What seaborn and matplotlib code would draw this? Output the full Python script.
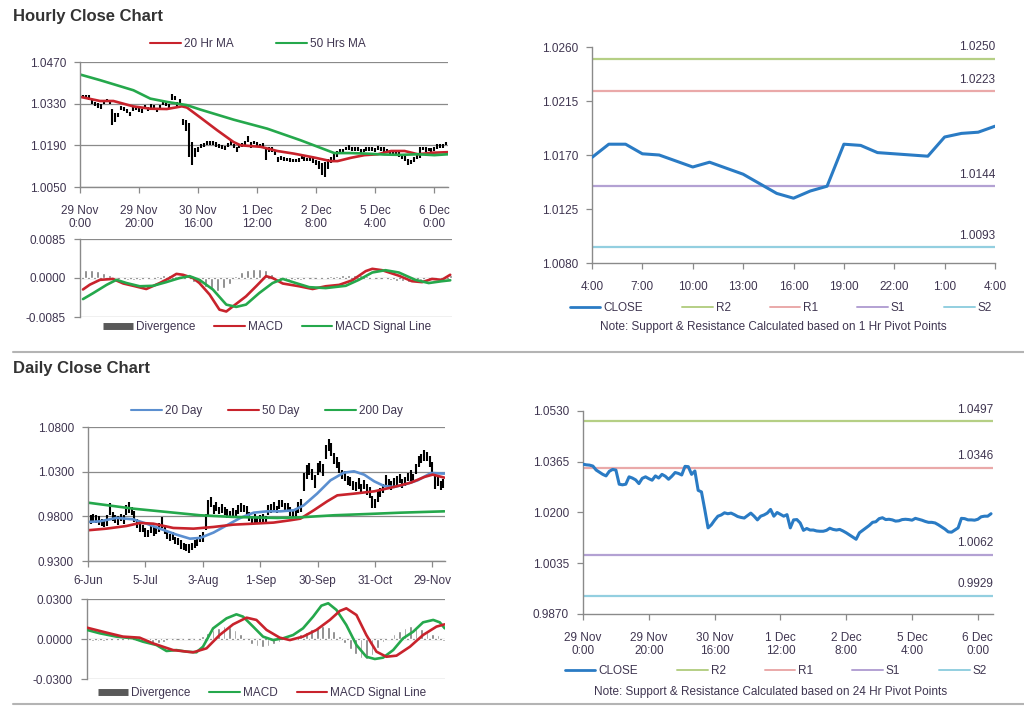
import matplotlib
matplotlib.use('Agg')
import matplotlib.pyplot as plt
from matplotlib.lines import Line2D
import seaborn as sns

sns.set_theme(style="white")
plt.rcParams['font.family'] = ['Liberation Sans', 'DejaVu Sans']

W, H = 1024, 706
TXT = '#3f3550'
AXC = '#8a8a8a'
BLUE = '#2a7bc4'
RED = '#c8232c'
GREEN = '#25a84c'
LEVEL_COLORS = ['#b5cf85', '#eaa9a9', '#b3a1d3', '#93cfe0']

# ---------------- hourly data (29 Nov 0:00 -> 6 Dec 4:00) ----------------
hr_close = [1.0357, 1.0355, 1.0354, 1.0351, 1.0338, 1.0331, 1.0324, 1.0319, 1.0334, 1.0340,
            1.0338, 1.0292, 1.0290, 1.0292, 1.0316, 1.0312, 1.0306, 1.0294, 1.0311, 1.0316,
            1.0310, 1.0305, 1.0319, 1.0312, 1.0324, 1.0318, 1.0308, 1.0318, 1.0330, 1.0327,
            1.0322, 1.0350, 1.0349, 1.0324, 1.0335, 1.0272, 1.0267, 1.0210, 1.0150, 1.0160,
            1.0175, 1.0188, 1.0192, 1.0199, 1.0196, 1.0198, 1.0193, 1.0187, 1.0184, 1.0182,
            1.0190, 1.0198, 1.0188, 1.0176, 1.0188, 1.0192, 1.0198, 1.0210, 1.0188, 1.0200,
            1.0194, 1.0188, 1.0193, 1.0150, 1.0176, 1.0177, 1.0166, 1.0142, 1.0148, 1.0143,
            1.0143, 1.0140, 1.0139, 1.0139, 1.0142, 1.0149, 1.0145, 1.0143, 1.0145, 1.0140,
            1.0134, 1.0127, 1.0120, 1.0113, 1.0134, 1.0142, 1.0150, 1.0158, 1.0168, 1.0170,
            1.0180, 1.0183, 1.0177, 1.0178, 1.0176, 1.0172, 1.0173, 1.0177, 1.0178, 1.0177,
            1.0175, 1.0181, 1.0178, 1.0175, 1.0171, 1.0168, 1.0168, 1.0166, 1.0160, 1.0153,
            1.0146, 1.0137, 1.0136, 1.0143, 1.0150, 1.0181, 1.0180, 1.0176, 1.0176, 1.0175,
            1.0178, 1.0186, 1.0188, 1.0188, 1.0196]
# bar extent above / below the close, in pips
hr_up = [6, 5, 6, 8, 7, 6, 8, 10, 6, 5, 6, 20, 10, 6, 7, 8, 6, 7, 8, 5,
         6, 7, 6, 8, 6, 7, 8, 6, 5, 8, 7, 12, 8, 10, 12, 8, 8, 55, 50, 20,
         8, 6, 7, 5, 8, 6, 7, 8, 6, 5, 8, 6, 7, 10, 6, 7, 8, 10, 12, 6,
         7, 8, 6, 35, 8, 6, 10, 8, 6, 7, 5, 6, 6, 5, 7, 6, 6, 5, 7, 8,
         7, 10, 12, 20, 10, 8, 12, 12, 10, 8, 6, 7, 7, 6, 8, 7, 6, 6, 7, 6,
         7, 6, 7, 8, 6, 7, 6, 7, 6, 8, 10, 8, 6, 7, 8, 5, 6, 7, 6, 7,
         6, 7, 8, 6, 6]
hr_dn = [6, 6, 7, 8, 10, 10, 9, 8, 6, 6, 8, 35, 20, 7, 6, 8, 9, 6, 7, 6,
         7, 6, 8, 6, 7, 8, 6, 7, 6, 6, 6, 6, 7, 8, 6, 15, 30, 60, 25, 10,
         8, 7, 6, 7, 6, 7, 8, 6, 7, 6, 7, 8, 6, 8, 7, 6, 7, 8, 7, 6,
         8, 6, 7, 8, 7, 8, 9, 7, 6, 6, 6, 7, 6, 6, 7, 6, 6, 6, 7, 8,
         10, 15, 30, 30, 25, 10, 8, 6, 7, 6, 6, 7, 6, 7, 6, 7, 6, 6, 7, 6,
         6, 7, 6, 6, 7, 8, 6, 7, 8, 10, 10, 12, 10, 8, 6, 35, 6, 7, 6, 7,
         6, 7, 6, 7, 6]

hr_ma20_x = [0, 6.8, 11.3, 18, 23.8, 29.4, 34.5, 36.2, 40.8, 46.4, 52, 54.4, 61.2, 66.8,
             72.5, 79.3, 84.9, 87.2, 91.7, 96.3, 100.8, 105.3, 109.9, 114.4, 118.9, 124.6]
hr_ma20 = [1.0353, 1.0339, 1.0339, 1.0321, 1.0313, 1.0312, 1.0321, 1.0317, 1.0283, 1.0241,
           1.0201, 1.0190, 1.0185, 1.0171, 1.0162, 1.0149, 1.0137, 1.0137, 1.0148, 1.0157,
           1.0160, 1.0171, 1.0171, 1.0160, 1.0165, 1.0167]
hr_ma50_x = [0, 6.8, 18.1, 23.8, 29.4, 36.2, 40.8, 52.1, 63.4, 74.7, 86.1, 91.7, 97.4,
             103, 108.7, 114.4, 120, 124.6]
hr_ma50 = [1.0428, 1.0409, 1.0375, 1.0347, 1.0336, 1.0325, 1.0310, 1.0276, 1.0246, 1.0207,
           1.0164, 1.0164, 1.0162, 1.0159, 1.0158, 1.0160, 1.0157, 1.0160]

hr_macd_x = [1, 3.3, 6.7, 11, 14.5, 17.8, 22.2, 26.7, 30, 32.3, 34.5, 37.8, 40, 43.4, 46.7,
             49, 51.2, 55.6, 59, 62.3, 64.5, 67.9, 73.4, 77.9, 82.3, 86.8, 91.2, 95.7, 97.9,
             101.2, 106.8, 111.2, 114.6, 117.9, 121.2, 124]
hr_macd = [-0.0025, -0.00145, -0.0004, -0.0002, -0.0012, -0.0017, -0.0024, -0.0011, 0.0,
           0.0009, 0.0007, 0.0, -0.0011, -0.0036, -0.0069, -0.0073, -0.0062, -0.0040, -0.0018,
           0.0004, 0.0, -0.0012, -0.0018, -0.0024, -0.0018, -0.0015, -0.0005, 0.0015, 0.0020,
           0.0017, 0.0005, -0.0007, -0.0009, -0.0002, -0.0004, 0.0007]
hr_sig_x = [1, 4.4, 8.9, 12.2, 15.6, 20, 24.5, 28.9, 33.4, 36.7, 40, 44.5, 49, 52.3, 55.6,
            60, 64.5, 67.9, 72.3, 76.8, 82.3, 89, 93.4, 97.9, 102.3, 106.8, 112.3, 116.8,
            121.2, 124]
hr_sig = [-0.0046, -0.0033, -0.0015, -0.0004, -0.0011, -0.0018, -0.0017, -0.0009, 0.0,
          0.0004, -0.0004, -0.0025, -0.0058, -0.0063, -0.0058, -0.0033, -0.0011, -0.0002,
          -0.0011, -0.0020, -0.0022, -0.0017, -0.0004, 0.0012, 0.0017, 0.0012, -0.0004,
          -0.0011, -0.0007, -0.0005]
# divergence every second hour, in 1e-4
hr_div = [15, 18, 18, 16, 10, 6, 1, -2, -4, -5, -4, -3, 2, 5, 7, 7, 5, 2, -3, -8,
          -14, -20, -26, -28, -22, -12, 4, 14, 18, 20, 20, 17, 8, -2, -4, -5, -4, -4, -3, -1,
          2, 3, 4, 5, 6, 6, 7, 6, 5, 3, 0, -3, -5, -6, -7, -8, -6, -4, -2, 1,
          3, 5, 6]
hr_ticks = [0, 20, 40, 60, 80, 100, 120]
hr_labels = ['29 Nov\n0:00', '29 Nov\n20:00', '30 Nov\n16:00', '1 Dec\n12:00',
             '2 Dec\n8:00', '5 Dec\n4:00', '6 Dec\n0:00']

# ---------------- last 24 hours with 1 Hr pivots ----------------
h24_close = [1.0168, 1.0179, 1.0179, 1.0171, 1.0170, 1.0165, 1.0160, 1.0164, 1.0159, 1.0154,
             1.0146, 1.0138, 1.0134, 1.0140, 1.0144, 1.0179, 1.0178, 1.0172, 1.0171, 1.0170,
             1.0169, 1.0185, 1.0188, 1.0189, 1.0194]
h24_labels = ['4:00', '7:00', '10:00', '13:00', '16:00', '19:00', '22:00', '1:00', '4:00']
h1_levels = [1.0250, 1.0223, 1.0144, 1.0093]
h24_levels = [1.0497, 1.0346, 1.0062, 0.9929]
level_names = ['R2', 'R1', 'S1', 'S2']

# ---------------- daily data (6 Jun -> 5 Dec) ----------------
d_close = [0.978, 0.976, 0.979, 0.977, 0.975, 0.973, 0.972, 0.975, 0.988, 0.980,
           0.977, 0.975, 0.979, 0.976, 0.987, 0.990, 0.986, 0.980, 0.972, 0.967,
           0.966, 0.962, 0.961, 0.965, 0.963, 0.964, 0.968, 0.973, 0.965, 0.959,
           0.956, 0.958, 0.953, 0.952, 0.948, 0.946, 0.945, 0.944, 0.946, 0.949,
           0.952, 0.955, 0.957, 0.974, 0.990, 0.996, 0.988, 0.991, 0.987, 0.989,
           0.986, 0.983, 0.982, 0.984, 0.983, 0.988, 0.990, 0.989, 0.987, 0.980,
           0.976, 0.978, 0.975, 0.977, 0.978, 0.976, 0.987, 0.989, 0.991, 0.988,
           0.993, 0.994, 0.990, 0.991, 0.985, 0.983, 0.984, 0.990, 0.992, 1.018,
           1.030, 1.033, 1.027, 1.019, 1.033, 1.036, 1.032, 1.052, 1.060, 1.055,
           1.045, 1.040, 1.035, 1.027, 1.025, 1.020, 1.019, 1.015, 1.013, 1.017,
           1.011, 1.016, 1.010, 1.007, 0.996, 0.994, 1.002, 1.007, 1.011, 1.020,
           1.017, 1.015, 1.018, 1.020, 1.022, 1.017, 1.019, 1.024, 1.026, 1.022,
           1.033, 1.041, 1.045, 1.048, 1.047, 1.041, 1.035, 1.020, 1.019, 1.014,
           1.017]
# half of each day's high-low range, in 1e-3
d_rng = [4, 5, 4, 4, 5, 4, 4, 6, 7, 5, 4, 5, 4, 5, 6, 6, 5, 6, 5, 4,
         4, 5, 4, 4, 5, 4, 5, 6, 5, 4, 4, 5, 4, 4, 5, 4, 4, 5, 4, 4,
         5, 4, 6, 9, 8, 6, 5, 5, 4, 5, 4, 5, 4, 5, 4, 5, 5, 4, 5, 5,
         4, 5, 4, 4, 5, 4, 6, 5, 5, 4, 5, 4, 5, 4, 5, 4, 5, 6, 7, 10,
         8, 7, 6, 7, 7, 6, 7, 8, 7, 7, 6, 6, 6, 5, 6, 5, 5, 5, 5, 6,
         5, 5, 6, 6, 7, 5, 6, 5, 5, 6, 5, 5, 5, 5, 5, 5, 5, 5, 6, 5,
         6, 6, 5, 6, 5, 6, 6, 9, 5, 5, 5]
d_ma20_x = [0, 4.3, 10.4, 16.5, 21.4, 26.3, 32.4, 37.3, 41, 45.9, 50.8, 55.7, 60.6, 65.5,
            70.4, 75.3, 78.9, 83.8, 88.7, 93.6, 97.3, 101, 104.7, 108.3, 112, 115.7, 120.6,
            125.5, 130.4]
d_ma20 = [0.9737, 0.9744, 0.9782, 0.9767, 0.9718, 0.9662, 0.9595, 0.9550, 0.9558, 0.9618,
          0.9700, 0.9782, 0.9841, 0.9856, 0.9856, 0.9868, 0.9923, 1.0054, 1.0203, 1.0289,
          1.0304, 1.0267, 1.0192, 1.0140, 1.0129, 1.0155, 1.0203, 1.0285, 1.0278]
d_ma50_x = [0, 6.7, 14.1, 19, 23.9, 31.2, 38.6, 45.9, 53.2, 60.6, 67.9, 74, 77.7, 82.6,
            87.5, 91.2, 97.3, 104.7, 112, 118.1, 123, 126.1, 130.4]
d_ma50 = [0.9644, 0.9662, 0.9692, 0.9726, 0.9718, 0.9670, 0.9662, 0.9681, 0.9707, 0.9718,
          0.9730, 0.9756, 0.9774, 0.9868, 0.9968, 1.0035, 1.0054, 1.0080, 1.0129, 1.0177,
          1.0240, 1.0267, 1.0233]
d_ma200_x = [0, 16.5, 28.8, 41, 53.2, 69.2, 77.7, 90, 102.2, 114.4, 130.4]
d_ma200 = [0.9953, 0.9886, 0.9849, 0.9812, 0.9793, 0.9782, 0.9789, 0.9812, 0.9826, 0.9841,
           0.9856]

d_macd_x = [0, 4.6, 10.7, 16.8, 20.4, 25.3, 29, 32.6, 36.3, 39.9, 42.3, 46, 50.9, 54.5,
            56.9, 60.6, 64.2, 67.9, 71.5, 75.2, 78.8, 82.5, 85.5, 88, 91, 94.6, 98.3, 101.9,
            105, 108, 111.7, 115.3, 119, 122.6, 126.3, 128.7, 130.5]
d_macd = [0.0068, 0.0043, 0.0018, 0.0005, -0.0020, -0.0045, -0.0090, -0.0083, -0.0095,
          -0.0100, -0.0058, 0.0080, 0.0155, 0.0185, 0.0168, 0.0093, 0.0018, -0.0008, 0.0005,
          0.0030, 0.0080, 0.0168, 0.0250, 0.0268, 0.0218, 0.0105, -0.0045, -0.0133, -0.0150,
          -0.0140, -0.0083, 0.0005, 0.0055, 0.0125, 0.0143, 0.0125, 0.0080]
d_sig_x = [0, 6.7, 13.1, 19.2, 24.1, 31.4, 38.7, 43.6, 48.4, 53.3, 58.2, 61.8, 65.5, 70.3,
           74, 78.8, 83.7, 88.6, 92.2, 94.6, 98.3, 101.9, 105.6, 109.2, 112.9, 117.8, 122.6,
           127.5, 130.5]
d_sig = [0.0085, 0.0050, 0.0018, 0.0010, -0.0033, -0.0083, -0.0100, -0.0070, 0.0030, 0.0110,
         0.0160, 0.0143, 0.0068, 0.0010, -0.0008, 0.0018, 0.0068, 0.0143, 0.0210, 0.0230,
         0.0180, 0.0030, -0.0095, -0.0133, -0.0125, -0.0058, 0.0030, 0.0093, 0.0110]
# divergence every second day, in 1e-3
d_div = [-1.0, -1.5, -1.5, -1.2, -1.0, -0.8, -0.5, -0.5, -0.8, -1.5, -2.5, -3.0, -3.5, -3.0,
         -2.0, -1.0, -0.3, 0.3, 0.5, 0.3, 0.5, 2.0, 4.5, 6.5, 8.5, 9.5, 9.0, 7.0, 3.5, -1.0,
         -4.0, -5.5, -6.0, -5.5, -4.0, -2.0, -0.5, 0.5, 1.5, 3.5, 5.5, 7.5, 9.0, 10.0, 9.0,
         6.0, 2.0, -3.0, -7.5, -11.0, -14.0, -15.0, -12.0, -7.0, -2.5, 1.0, 4.0, 6.0, 8.0,
         9.5, 9.0, 7.5, 5.0, 4.0, 3.0, -1.5]
d_ticks = [0, 21, 42, 63, 84, 105, 126]
d_labels = ['6-Jun', '5-Jul', '3-Aug', '1-Sep', '30-Sep', '31-Oct', '29-Nov']


def box(fig, x0, y0, x1, y1):
    return fig.add_axes([x0 / W, 1 - y1 / H, (x1 - x0) / W, (y1 - y0) / H])


def style(ax, grid=True):
    ax.set_facecolor('white')
    for s in ['top', 'right']:
        ax.spines[s].set_visible(False)
    for s in ['left', 'bottom']:
        ax.spines[s].set_color(AXC)
        ax.spines[s].set_linewidth(1.0)
    ax.tick_params(axis='both', which='both', bottom=True, left=True, colors=AXC,
                   labelcolor=TXT, labelsize=8.5, length=4, width=0.9, direction='out')
    ax.tick_params(axis='y', pad=6)
    ax.tick_params(axis='x', pad=6)
    if grid:
        ax.yaxis.grid(True, color=AXC, lw=0.9)
        ax.set_axisbelow(True)
    ax.set_xlabel('')
    ax.set_ylabel('')


def yfmt(ax, ticks, fmt='{:.4f}'):
    ax.set_yticks(ticks)
    ax.set_yticklabels([fmt.format(t) for t in ticks])


def legend(fig, handles, labels, cx, cy, spacing=3.0):
    fig.legend(handles, labels, loc='center', bbox_to_anchor=(cx / W, 1 - cy / H),
               ncol=len(labels), frameon=False, fontsize=8.5, handlelength=2.6,
               handletextpad=0.25, columnspacing=spacing, labelcolor=TXT)


def div_handle():
    return Line2D([], [], color='#595959', lw=5, solid_capstyle='butt')


def ohlc(ax, xs, close, up, dn, unit):
    lows = [c - d * unit for c, d in zip(close, dn)]
    highs = [c + u * unit for c, u in zip(close, up)]
    ax.vlines(xs, lows, highs, color='black', lw=1.5)


def pivot_chart(ax, close, levels, ymin, ymax, yticks):
    xs = list(range(len(close)))
    for lv, c in zip(levels, LEVEL_COLORS):
        ax.axhline(lv, color=c, lw=1.6, zorder=1)
        ax.annotate(f'{lv:.4f}', xy=(1.0, lv), xycoords=('axes fraction', 'data'),
                    xytext=(0, 4), textcoords='offset points', ha='right', va='bottom',
                    fontsize=8.5, color=TXT)
    sns.lineplot(x=xs, y=close, ax=ax, color=BLUE, lw=2.2, zorder=3)
    ax.set_ylim(ymin, ymax)
    yfmt(ax, yticks)
    style(ax, grid=False)


def level_legend(fig, cx, cy):
    handles = [Line2D([], [], color=BLUE, lw=2)] + \
              [Line2D([], [], color=c, lw=1.4) for c in LEVEL_COLORS]
    legend(fig, handles, ['CLOSE'] + level_names, cx, cy, spacing=3.3)


fig = plt.figure(figsize=(W / 100, H / 100), dpi=100)
fig.patch.set_facecolor('white')

fig.text(13 / W, 1 - 16 / H, 'Hourly Close Chart', fontsize=12, fontweight='bold',
         color='#333333', va='center', ha='left')
fig.text(13 / W, 1 - 369 / H, 'Daily Close Chart', fontsize=12, fontweight='bold',
         color='#333333', va='center', ha='left')
fig.add_artist(Line2D([13 / W, 1], [1 - 352 / H] * 2, color='#b4b4b4', lw=1.5))
fig.add_artist(Line2D([13 / W, 1], [1 - 704 / H] * 2, color='#b4b4b4', lw=1.5))

# ---- hourly price with MAs ----
ax = box(fig, 80, 62, 448, 187)
hx = list(range(len(hr_close)))
ohlc(ax, hx, hr_close, hr_up, hr_dn, 0.0001)
sns.lineplot(x=hr_ma20_x, y=hr_ma20, ax=ax, color=RED, lw=1.9)
sns.lineplot(x=hr_ma50_x, y=hr_ma50, ax=ax, color=GREEN, lw=1.9)
ax.set_xlim(0, 124.6)
ax.set_ylim(1.0050, 1.0470)
yfmt(ax, [1.0050, 1.0190, 1.0330, 1.0470])
ax.set_xticks(hr_ticks)
ax.set_xticklabels(hr_labels, linespacing=1.1)
style(ax)
ax.tick_params(axis='x', pad=9)
legend(fig, [Line2D([], [], color=RED, lw=1.5), Line2D([], [], color=GREEN, lw=1.5)],
       ['20 Hr MA', '50 Hrs MA'], 258, 44, spacing=3.6)

# ---- hourly MACD ----
ax = box(fig, 80, 239, 452, 317)
div_x = [2 * i for i in range(len(hr_div))]
ax.bar(div_x, [v * 0.0001 for v in hr_div], width=1.0, color='#7a7a7a', zorder=2)
sns.lineplot(x=hr_macd_x, y=hr_macd, ax=ax, color=RED, lw=1.9, zorder=3)
sns.lineplot(x=hr_sig_x, y=hr_sig, ax=ax, color=GREEN, lw=1.9, zorder=4)
ax.set_xlim(0, 124.6)
ax.set_ylim(-0.0085, 0.0085)
yfmt(ax, [-0.0085, 0.0, 0.0085])
style(ax)
ax.spines['bottom'].set_visible(False)
ax.set_xticks([])
legend(fig, [div_handle(), Line2D([], [], color=RED, lw=1.5),
             Line2D([], [], color=GREEN, lw=1.5)],
       ['Divergence', 'MACD', 'MACD Signal Line'], 267, 327, spacing=1.6)

# ---- last 24 hours with 1 Hr pivot levels ----
ax = box(fig, 592, 47, 995, 263)
pivot_chart(ax, h24_close, h1_levels, 1.0080, 1.0260,
            [1.0080, 1.0125, 1.0170, 1.0215, 1.0260])
ax.set_xlim(0, 24)
ax.set_xticks(list(range(0, 25, 3)))
ax.set_xticklabels(h24_labels)
ax.tick_params(axis='x', pad=9)
level_legend(fig, 781, 308)
fig.text(773 / W, 1 - 327 / H, 'Note: Support & Resistance Calculated based on 1 Hr Pivot Points',
         fontsize=8.5, color=TXT, ha='center', va='center')

# ---- daily price with MAs ----
ax = box(fig, 88, 427, 445, 561)
dx = list(range(len(d_close)))
ohlc(ax, dx, d_close, d_rng, d_rng, 0.001)
sns.lineplot(x=d_ma20_x, y=d_ma20, ax=ax, color='#5b8fd0', lw=1.9)
sns.lineplot(x=d_ma50_x, y=d_ma50, ax=ax, color=RED, lw=1.9)
sns.lineplot(x=d_ma200_x, y=d_ma200, ax=ax, color=GREEN, lw=1.9)
ax.set_xlim(0, 130.6)
ax.set_ylim(0.9300, 1.0800)
yfmt(ax, [0.9300, 0.9800, 1.0300, 1.0800])
ax.set_xticks(d_ticks)
ax.set_xticklabels(d_labels)
style(ax)
legend(fig, [Line2D([], [], color='#5b8fd0', lw=1.5), Line2D([], [], color=RED, lw=1.5),
             Line2D([], [], color=GREEN, lw=1.5)],
       ['20 Day', '50 Day', '200 Day'], 267, 411, spacing=2.2)

# ---- daily MACD ----
ax = box(fig, 87, 599, 445, 679)
ddiv_x = [2 * i for i in range(len(d_div))]
ax.bar(ddiv_x, [v * 0.001 for v in d_div], width=1.0, color='#7a7a7a', zorder=2)
sns.lineplot(x=d_macd_x, y=d_macd, ax=ax, color=GREEN, lw=1.9, zorder=3)
sns.lineplot(x=d_sig_x, y=d_sig, ax=ax, color=RED, lw=1.9, zorder=4)
ax.set_xlim(0, 130.6)
ax.set_ylim(-0.0300, 0.0300)
yfmt(ax, [-0.0300, 0.0, 0.0300])
style(ax)
ax.spines['bottom'].set_visible(False)
ax.set_xticks([])
legend(fig, [div_handle(), Line2D([], [], color=GREEN, lw=1.5),
             Line2D([], [], color=RED, lw=1.5)],
       ['Divergence', 'MACD', 'MACD Signal Line'], 262, 693, spacing=1.6)

# ---- hourly close with 24 Hr pivot levels ----
ax = box(fig, 583, 411, 993, 614)
pivot_chart(ax, hr_close, h24_levels, 0.9870, 1.0530,
            [0.9870, 1.0035, 1.0200, 1.0365, 1.0530])
ax.set_xlim(0, 124.6)
ax.set_xticks(hr_ticks)
ax.set_xticklabels(hr_labels, linespacing=1.1)
ax.tick_params(axis='x', pad=9)
level_legend(fig, 776, 671)
fig.text(771 / W, 1 - 692 / H, 'Note: Support & Resistance Calculated based on 24 Hr Pivot Points',
         fontsize=8.5, color=TXT, ha='center', va='center')

fig.savefig('out.png', dpi=100, facecolor='white')
